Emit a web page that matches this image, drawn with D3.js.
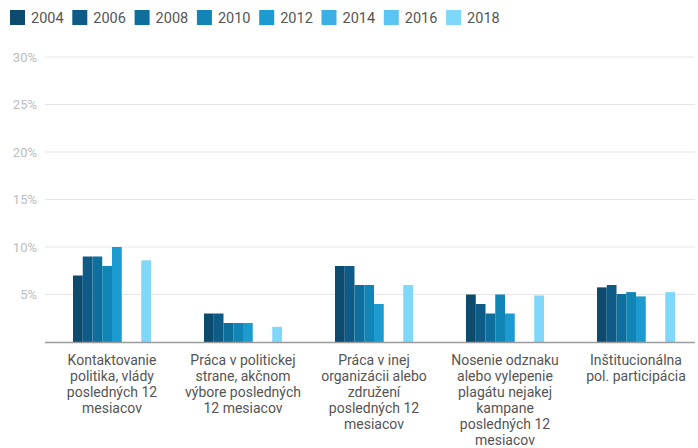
<!DOCTYPE html>
<html><head><meta charset="utf-8">
<script src="https://cdn.jsdelivr.net/npm/d3@7"></script>
<style>body{margin:0;background:#fff;} svg{display:block;font-family:Roboto, "Noto Sans", sans-serif;}</style>
</head><body><svg id="c" width="698" height="448"></svg>
<script>
const years = ["2004","2006","2008","2010","2012","2014","2016","2018"];
const colors = ["#0c4a6e","#0e5b87","#0f6f9c","#1186b6","#1b9bd0","#3cb0e4","#5ac4f2","#7fd8fa"];
const categories = [
  ["Kontaktovanie","politika, vlády","posledných 12","mesiacov"],
  ["Práca v politickej","strane, akčnom","výbore posledných","12 mesiacov"],
  ["Práca v inej","organizácii alebo","združení","posledných 12","mesiacov"],
  ["Nosenie odznaku","alebo vylepenie","plagátu nejakej","kampane","posledných 12","mesiacov"],
  ["Inštitucionálna","pol. participácia"]
];
// values per category, per year (null = no data)
const v2004 = [7, 3, 8, 5, 5.75];
const v2006 = [9, 3, 8, 4, 6.0];
const v2008 = [9, 2, 6, 3, 5.05];
const v2010 = [8, 2, 6, 5, 5.25];
const v2012 = [10, 2, 4, 3, 4.8];
const v2014 = [null, null, null, null, null];
const v2016 = [null, null, null, null, null];
const v2018 = [8.6, 1.6, 6, 4.9, 5.25];
const series = [v2004,v2006,v2008,v2010,v2012,v2014,v2016,v2018];
const yTicks = [5,10,15,20,25,30];

const svg = d3.select("#c");
const catIdx = categories.map((d,i)=>i);
const x0 = d3.scaleBand().domain(catIdx).range([46.5, 701.5]);
const groupW = 78;
const x1 = d3.scaleBand().domain(years).range([0, groupW]);
const y = d3.scaleLinear().domain([0,30]).range([342, 57]);

// grid
svg.append("g").selectAll("line").data(yTicks).join("line")
  .attr("x1", 45).attr("x2", 695)
  .attr("y1", d=>y(d)).attr("y2", d=>y(d))
  .attr("stroke", "#e6e6e6").attr("stroke-width", 1);
svg.append("g").selectAll("text").data(yTicks).join("text")
  .attr("x", 37).attr("y", d=>y(d)+4.5)
  .attr("text-anchor","end").attr("font-size", 13).attr("fill","#bdbdbd")
  .text(d=>d+"%");

// bars
const g = svg.append("g");
catIdx.forEach(ci=>{
  const gx = x0(ci) + (x0.bandwidth()-groupW)/2;
  years.forEach((yr, yi)=>{
    const val = series[yi][ci];
    if (val == null) return;
    g.append("rect")
      .attr("x", gx + x1(yr)).attr("width", x1.bandwidth())
      .attr("y", y(val)).attr("height", y(0)-y(val))
      .attr("fill", colors[yi]);
  });
});

// axis line
svg.append("line").attr("x1",45).attr("x2",695).attr("y1",y(0)+0.5).attr("y2",y(0)+0.5)
  .attr("stroke","#9a9a9a").attr("stroke-width",1.5);

// category labels
catIdx.forEach(ci=>{
  const cx = x0(ci) + x0.bandwidth()/2;
  const t = svg.append("text").attr("text-anchor","middle").attr("font-size",14).attr("fill","#555");
  categories[ci].forEach((line, li)=>{
    t.append("tspan").attr("x", cx).attr("y", 365 + li*16).text(line);
  });
});

// legend
const lg = svg.append("g");
years.forEach((yr, i)=>{
  const lx = 10 + i*62.3;
  lg.append("rect").attr("x", lx).attr("y", 10).attr("width", 15).attr("height", 15).attr("fill", colors[i]);
  lg.append("text").attr("x", lx+21).attr("y", 22.5).attr("font-size", 14.5).attr("fill","#555").text(yr);
});
</script></body></html>
